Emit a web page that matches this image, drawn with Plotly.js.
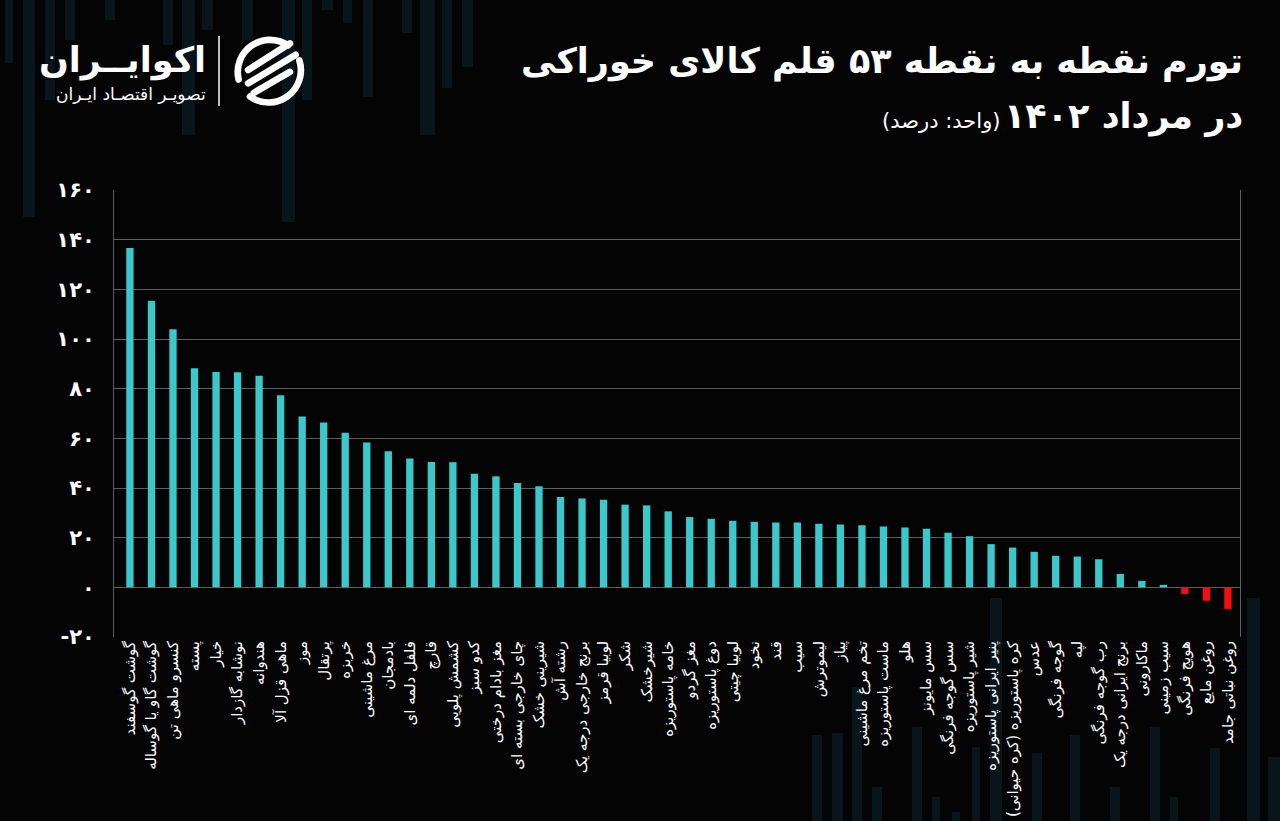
<!DOCTYPE html>
<html>
<head>
<meta charset="utf-8">
<script src="https://cdn.plot.ly/plotly-3.0.1.min.js"></script>
<style>
  html, body { margin: 0; padding: 0; background: #040404; }
  #chart { width: 1280px; height: 821px; }
</style>
</head>
<body>
<div id="chart"></div>
<script>

// items, sorted as in the source chart
let items = [
    "گوشت گوسفند", "گوشت گاو یا گوساله", "کنسرو ماهی تن", "پسته", "خیار",
    "نوشابه گازدار", "هندوانه", "ماهی قزل آلا", "موز", "پرتقال",
    "خربزه", "مرغ ماشینی", "بادمجان", "فلفل دلمه ای", "قارچ",
    "کشمش پلویی", "کدو سبز", "مغز بادام درختی", "چای خارجی بسته ای", "شیرینی خشک",
    "رشته آش", "برنج خارجی درجه یک", "لوبیا قرمز", "شکر", "شیرخشک",
    "خامه پاستوریزه", "مغز گردو", "دوغ پاستوریزه", "لوبیا چیتی", "نخود",
    "قند", "سیب", "لیموترش", "پیاز", "تخم مرغ ماشینی",
    "ماست پاستوریزه", "هلو", "سس مایونز", "سس گوجه فرنگی", "شیر پاستوریزه",
    "پنیر ایرانی پاستوریزه", "کره پاستوریزه (کره حیوانی)\u200F", "عدس", "گوجه فرنگی", "لپه",
    "رب گوجه فرنگی", "برنج ایرانی درجه یک", "ماکارونی", "سیب زمینی", "هویج فرنگی",
    "روغن مایع", "روغن نباتی جامد"
];

// point-to-point inflation, percent
let inflation = [
    136.6, 115.4, 103.9, 88.2, 86.7,
    86.6, 85.2, 77.3, 68.8, 66.4,
    62.2, 58.3, 54.8, 51.9, 50.5,
    50.4, 45.7, 44.7, 42.0, 40.7,
    36.4, 35.8, 35.3, 33.3, 33.0,
    30.6, 28.3, 27.6, 26.8, 26.4,
    26.1, 26.1, 25.6, 25.3, 25.0,
    24.5, 24.1, 23.6, 22.0, 20.6,
    17.4, 16.0, 14.3, 12.7, 12.4,
    11.3, 5.4, 2.6, 1.0, -2.7,
    -5.4, -8.7
];

let yTicks = [-20, 0, 20, 40, 60, 80, 100, 120, 140, 160];
let yTickText = ["-۲۰", "۰", "۲۰", "۴۰", "۶۰", "۸۰", "۱۰۰", "۱۲۰", "۱۴۰", "۱۶۰"];

let titleLine1 = "تورم نقطه به نقطه ۵۳ قلم کالای خوراکی";
let titleLine2 = "در مرداد ۱۴۰۲";
let unitText = "(واحد: درصد)";
let brandName = "اکوایــران";
let brandSub = "تصویـر اقتصـاد ایـران";

const TEAL = "#3cc8cb";
const RED = "#f01010";
const DECOR = "#08161c";
const FONT = "DejaVu Sans, sans-serif";

// plot box in pixels, used to place the header items in paper coords
const M = {l: 114, r: 40, t: 190, b: 184};
const W = 1280, H = 821;
let px = (x) => (x - M.l) / (W - M.l - M.r);
let py = (y) => (H - M.b - y) / (H - M.t - M.b);

// faint background stripes of the template: [left, right, top, bottom] in px
let stripes = [
    [5, 13, 0, 63], [23, 35, 0, 217], [45, 55, 0, 100], [65, 75, 0, 40],
    [105, 115, 0, 20], [163, 173, 0, 45], [182, 195, 0, 135], [202, 213, 0, 30],
    [242, 253, 0, 40], [282, 295, 0, 222], [302, 312, 0, 100], [322, 333, 0, 10],
    [343, 352, 0, 23], [363, 373, 0, 97], [402, 412, 0, 33], [420, 435, 0, 135],
    [442, 452, 0, 88], [462, 473, 0, 67],
    [812, 822, 735, 821], [832, 843, 733, 821], [852, 862, 687, 821], [872, 882, 787, 821],
    [912, 922, 727, 821], [932, 940, 797, 821], [952, 960, 812, 821], [972, 980, 747, 821],
    [990, 1002, 598, 821], [1032, 1042, 753, 821], [1070, 1080, 735, 821], [1110, 1120, 787, 821],
    [1150, 1160, 727, 821], [1170, 1178, 797, 821], [1210, 1220, 748, 821], [1247, 1260, 598, 821],
    [1268, 1280, 757, 821],
];

let bars = {
    type: "bar",
    x: items, y: inflation,
    marker: {color: inflation.map(function(v) { return v < 0 ? RED : TEAL; })},
    width: 0.34,
    hoverinfo: "x+y",
};

let logo = "data:image/svg+xml;utf8," + encodeURIComponent(
    "<svg xmlns='http://www.w3.org/2000/svg' viewBox='0 0 80 80'>" +
    "<g fill='none' stroke='white' stroke-width='7' stroke-linecap='round'>" +
    "<path d='M60 14 A34 34 0 0 0 8 50'/>" +
    "<path d='M20 68 A34 34 0 0 0 72 30'/>" +
    "<path d='M18 40 L62 12'/><path d='M18 54 L68 24'/><path d='M24 64 L62 42'/>" +
    "</g></svg>");

let shapes = stripes.map(function(s) {
    return {type: "rect", xref: "paper", yref: "paper", layer: "below",
            x0: px(s[0]), x1: px(s[1]), y0: py(s[3]), y1: py(s[2]),
            fillcolor: DECOR, line: {width: 0}};
});
shapes.push({type: "line", xref: "paper", yref: "paper",
             x0: px(219), x1: px(219), y0: py(36), y1: py(106),
             line: {color: "#ffffff", width: 1.5}});

let layout = {
    width: W, height: H,
    paper_bgcolor: "#040404", plot_bgcolor: "rgba(0,0,0,0)",
    margin: M,
    showlegend: false,
    bargap: 0.66,
    font: {family: FONT, color: "#ffffff"},
    xaxis: {
        type: "category",
        range: [-0.74, 51.56],
        tickangle: -90,
        tickfont: {family: FONT, size: 15, color: "#ffffff"},
        ticks: "", showgrid: false, zeroline: false,
        showline: false, automargin: false,
        fixedrange: true,
    },
    yaxis: {
        range: [-20, 160],
        tickvals: yTicks, ticktext: yTickText,
        tickfont: {family: FONT, size: 21, color: "#ffffff", weight: "bold"},
        ticks: "", ticklabelstandoff: 14,
        showgrid: true, gridcolor: "#5c5c5c", gridwidth: 1,
        zeroline: true, zerolinecolor: "#5c5c5c", zerolinewidth: 1,
        showline: true, linecolor: "#5c5c5c", linewidth: 1, mirror: true,
        automargin: false, fixedrange: true,
    },
    annotations: [
        {text: titleLine1, x: px(1245), y: py(62), xref: "paper", yref: "paper",
         xanchor: "right", yanchor: "middle", showarrow: false,
         font: {family: FONT, size: 35, color: "#ffffff", weight: "bold"}},
        {text: titleLine2, x: px(1245), y: py(117), xref: "paper", yref: "paper",
         xanchor: "right", yanchor: "middle", showarrow: false,
         font: {family: FONT, size: 35, color: "#ffffff", weight: "bold"}},
        {text: unitText, x: px(1002), y: py(121), xref: "paper", yref: "paper",
         xanchor: "right", yanchor: "middle", showarrow: false,
         font: {family: FONT, size: 21, color: "#ffffff"}},
        {text: brandName, x: px(208), y: py(60), xref: "paper", yref: "paper",
         xanchor: "right", yanchor: "middle", showarrow: false,
         font: {family: FONT, size: 35, color: "#ffffff", weight: "bold"}},
        {text: brandSub, x: px(208), y: py(94), xref: "paper", yref: "paper",
         xanchor: "right", yanchor: "middle", showarrow: false,
         font: {family: FONT, size: 17, color: "#ffffff"}},
    ],
    shapes: shapes,
    images: [
        {source: logo, xref: "paper", yref: "paper",
         x: px(231), y: py(32), sizex: px(307) - px(231), sizey: py(32) - py(108),
         xanchor: "left", yanchor: "top", sizing: "contain", layer: "above"},
    ],
};

Plotly.newPlot("chart", [bars], layout, {displayModeBar: false, staticPlot: true});

</script>
</body>
</html>
